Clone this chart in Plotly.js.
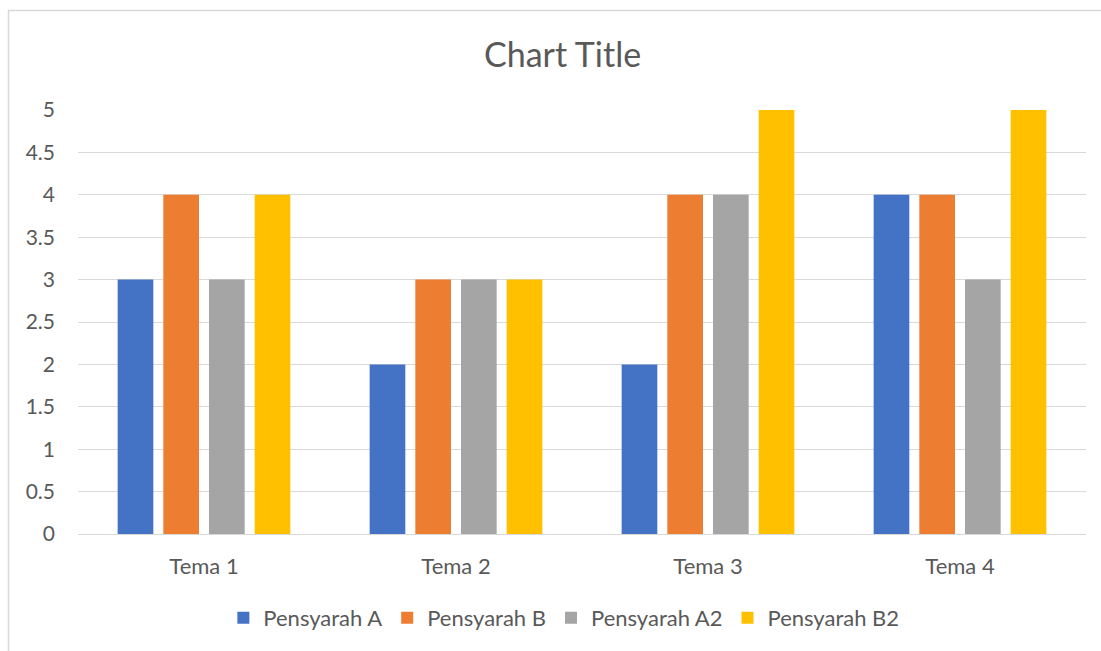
<!DOCTYPE html>
<html>
<head>
<meta charset="utf-8">
<script src="https://cdn.plot.ly/plotly-3.0.1.min.js"></script>
<style>html,body{margin:0;padding:0;background:#fff;}#chart{width:1101px;height:651px;}</style>
</head>
<body>
<div id="chart"></div>
<script>
const categories = ["Tema 1", "Tema 2", "Tema 3", "Tema 4"];
const seriesNames = ["Pensyarah A", "Pensyarah B", "Pensyarah A2", "Pensyarah B2"];
const pensyarahA = [3, 2, 2, 4];
const pensyarahB = [4, 3, 4, 4];
const pensyarahA2 = [3, 3, 4, 3];
const pensyarahB2 = [4, 3, 5, 5];
const colors = ["#4472C4", "#ED7D31", "#A5A5A5", "#FFC000"];
const yTicks = [0, 0.5, 1, 1.5, 2, 2.5, 3, 3.5, 4, 4.5, 5];

const values = [pensyarahA, pensyarahB, pensyarahA2, pensyarahB2];
const data = values.map((v, i) => ({
  type: "bar",
  name: seriesNames[i],
  x: categories,
  y: v,
  marker: {color: colors[i]},
  hoverinfo: "none"
}));

const font = "Lato, 'Open Sans', sans-serif";
const layout = {
  width: 1101, height: 651,
  margin: {l: 78, r: 15, t: 110, b: 117},
  paper_bgcolor: "#fff", plot_bgcolor: "#fff",
  barmode: "group", bargap: 0.275, bargroupgap: 0.219,
  font: {family: font, color: "#595959", size: 22},
  title: {text: "Chart Title", x: 0.511, xanchor: "center", y: 0.915, yanchor: "middle",
          font: {family: font, size: 34, color: "#595959"}},
  xaxis: {type: "category", showgrid: false, showline: true, linecolor: "#d9d9d9", linewidth: 1,
          ticks: "", ticklabelstandoff: 13, tickfont: {size: 22, color: "#595959"}, fixedrange: true},
  yaxis: {range: [0, 5], tickvals: yTicks, ticktext: yTicks.map(String), showgrid: true,
          gridcolor: "#d9d9d9", gridwidth: 1, zeroline: false, showline: false, ticks: "",
          ticklabelstandoff: 22, tickfont: {size: 21, color: "#595959"}, fixedrange: true},
  legend: {orientation: "h", x: 0.482, xanchor: "center", y: -0.198, yanchor: "middle",
           font: {size: 22, color: "#595959"}, traceorder: "normal", itemclick: false},
  shapes: [{type: "rect", xref: "paper", yref: "paper",
            x0: (8.5 - 78) / 1008, x1: (1120 - 78) / 1008,
            y0: -(140 / 424), y1: 1 + (99.5 / 424),
            line: {color: "#d9d9d9", width: 1.5}, fillcolor: "rgba(0,0,0,0)", layer: "below"}]
};

Plotly.newPlot("chart", data, layout, {displayModeBar: false, staticPlot: true});
</script>
</body>
</html>
